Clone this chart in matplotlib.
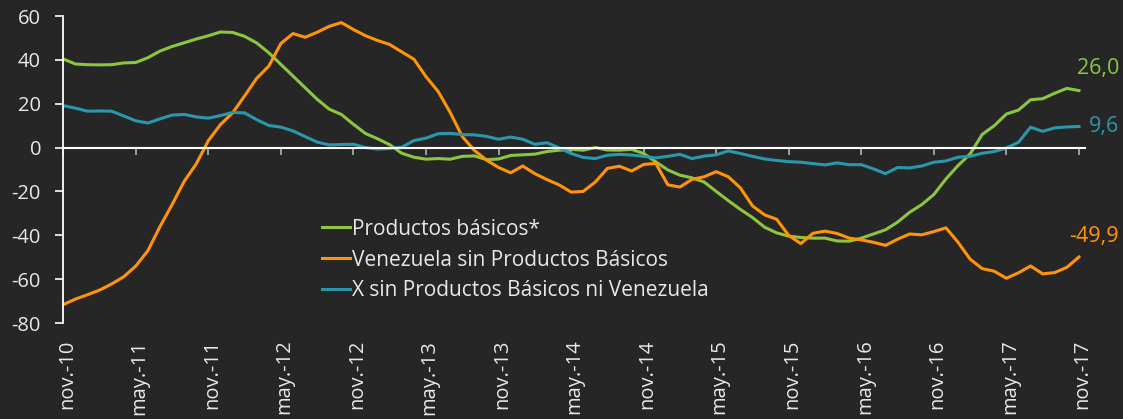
import numpy as np
import matplotlib
matplotlib.use('Agg')
import matplotlib.pyplot as plt
import matplotlib.transforms as mtransforms

plt.rcParams['font.family'] = ['Open Sans', 'DejaVu Sans']
plt.rcParams['axes.unicode_minus'] = False

# Monthly series, nov-10 .. nov-17 (85 months)
productos = [40.4, 38.1, 37.8, 37.7, 37.8, 38.6, 38.8, 41.0, 44.0, 46.1,
             47.8, 49.5, 51.0, 52.7, 52.5, 50.7, 47.7, 43.2, 37.9, 32.6,
             27.3, 22.0, 17.5, 15.1, 10.6, 6.4, 4.0, 1.3, -2.6, -4.4,
             -5.3, -5.0, -5.3, -4.0, -3.8, -5.5, -5.2, -3.6, -3.3, -3.0,
             -1.8, -1.2, -0.8, -1.2, 0.0, -1.1, -1.2, -0.8, -2.7, -6.5,
             -10.2, -12.6, -13.8, -15.7, -20.0, -24.2, -28.2, -31.9, -36.3, -38.9,
             -40.4, -41.0, -41.3, -41.3, -42.6, -42.7, -41.3, -39.4, -37.5, -34.0,
             -29.5, -26.0, -21.4, -14.3, -8.2, -2.9, 6.0, 10.0, 15.3, 17.1,
             21.8, 22.3, 24.8, 27.0, 26.0]
venezuela = [-71.6, -69.1, -67.1, -65.0, -62.2, -58.9, -54.0, -47.0, -36.0, -26.0,
             -15.4, -7.4, 3.2, 10.5, 15.8, 23.6, 31.6, 37.2, 47.5, 52.0,
             50.3, 52.6, 55.3, 57.0, 53.8, 51.0, 48.8, 47.0, 43.6, 40.3,
             32.3, 25.6, 16.0, 5.0, -1.3, -5.7, -9.1, -11.5, -8.4, -11.9,
             -14.6, -17.0, -20.3, -20.0, -15.7, -9.5, -8.5, -10.7, -7.7, -7.2,
             -17.0, -18.0, -14.5, -13.3, -11.0, -13.3, -18.4, -26.6, -30.7, -32.7,
             -40.1, -43.8, -39.1, -38.1, -39.2, -41.3, -42.1, -43.2, -44.6, -41.8,
             -39.4, -39.8, -38.3, -36.6, -43.2, -50.9, -55.2, -56.4, -59.6, -57.1,
             -54.0, -57.6, -57.0, -54.6, -49.9]
resto = [19.1, 18.0, 16.6, 16.7, 16.6, 14.4, 12.2, 11.2, 13.1, 14.8,
         15.1, 14.0, 13.4, 14.6, 16.0, 15.8, 12.7, 10.1, 9.3, 7.6,
         5.0, 2.5, 1.2, 1.4, 1.5, 0.0, -0.7, -0.4, 0.2, 3.2,
         4.3, 6.3, 6.5, 5.9, 5.8, 5.1, 3.8, 4.8, 3.8, 1.5,
         2.2, -0.1, -2.7, -4.5, -5.0, -3.5, -3.1, -3.4, -4.0, -4.7,
         -4.0, -3.1, -5.0, -3.9, -3.3, -1.5, -2.7, -4.0, -5.2, -5.9,
         -6.4, -6.7, -7.3, -7.9, -7.0, -7.8, -7.8, -9.7, -11.9, -9.1,
         -9.3, -8.4, -6.7, -6.1, -4.4, -4.0, -2.6, -1.8, -0.2, 2.4,
         9.3, 7.4, 9.0, 9.4, 9.6]

tick_labels = ['nov.-10', 'may.-11', 'nov.-11', 'may.-12', 'nov.-12', 'may.-13',
               'nov.-13', 'may.-14', 'nov.-14', 'may.-15', 'nov.-15', 'may.-16',
               'nov.-16', 'may.-17', 'nov.-17']
series_names = ['Productos básicos*', 'Venezuela sin Productos Básicos',
                'X sin Productos Básicos ni Venezuela']

bg = '#262626'
txt = '#e8e8e8'
colors = ['#8cc63f', '#ff9408', '#2b97ad']

W, H = 1123, 419
fig = plt.figure(figsize=(W / 100, H / 100), dpi=100, facecolor=bg)
ax = fig.add_axes([63.3 / W, 1 - 323 / H, (1085 - 63.3) / W, (323 - 16) / H])
ax.set_facecolor(bg)

x = np.arange(len(productos))
lines = []
for y, c, name in zip([productos, venezuela, resto], colors, series_names):
    ln, = ax.plot(x, y, color=c, lw=2.2, label=name, solid_joinstyle='round')
    lines.append(ln)

ax.set_xlim(0, 84.5)
ax.set_ylim(-80, 60)
ax.set_yticks(np.arange(-80, 61, 20))

for s in ['top', 'right']:
    ax.spines[s].set_visible(False)
ax.spines['left'].set_color('white')
ax.spines['left'].set_linewidth(1.3)
ax.spines['bottom'].set_position(('data', 0))
ax.spines['bottom'].set_color('white')
ax.spines['bottom'].set_linewidth(1.5)

ticks = np.arange(0, 85, 6)
ax.set_xticks(ticks)
ax.tick_params(axis='x', direction='out', length=5, width=1.3, color='#a6a6a6',
               labelbottom=False)
ax.tick_params(axis='y', direction='out', length=5.5, width=1.2, color='white',
               labelsize=14.5, labelcolor=txt, pad=10.5)

sec = ax.secondary_xaxis('bottom')
sec.set_xticks(ticks, tick_labels, rotation=90, fontsize=14.5, color=txt,
               va='top', ha='center')
sec.tick_params(length=0, pad=12)
sec.spines['bottom'].set_visible(False)
off = mtransforms.ScaledTranslation(3.5 / 100, 0, fig.dpi_scale_trans)
for lab in sec.get_xticklabels():
    lab.set_transform(lab.get_transform() + off)

# value labels at the last point
for y, c, dy in zip([productos, venezuela, resto], colors, [15.8, 14.4, 0]):
    ax.annotate(('%.1f' % y[-1]).replace('.', ','), xy=(x[-1], y[-1]),
                xytext=(28.8, dy), textcoords='offset points',
                ha='right', va='center', color=c, fontsize=15.5)

ax.legend(handles=lines, loc='center left',
          bbox_to_anchor=(321.7 / W, 1 - 260 / H), bbox_transform=fig.transFigure,
          frameon=False, fontsize=15, labelcolor=txt, handlelength=1.35,
          handletextpad=0.12, borderpad=0, borderaxespad=0, labelspacing=0.48)

fig.savefig('out.png', dpi=100, facecolor=bg)
